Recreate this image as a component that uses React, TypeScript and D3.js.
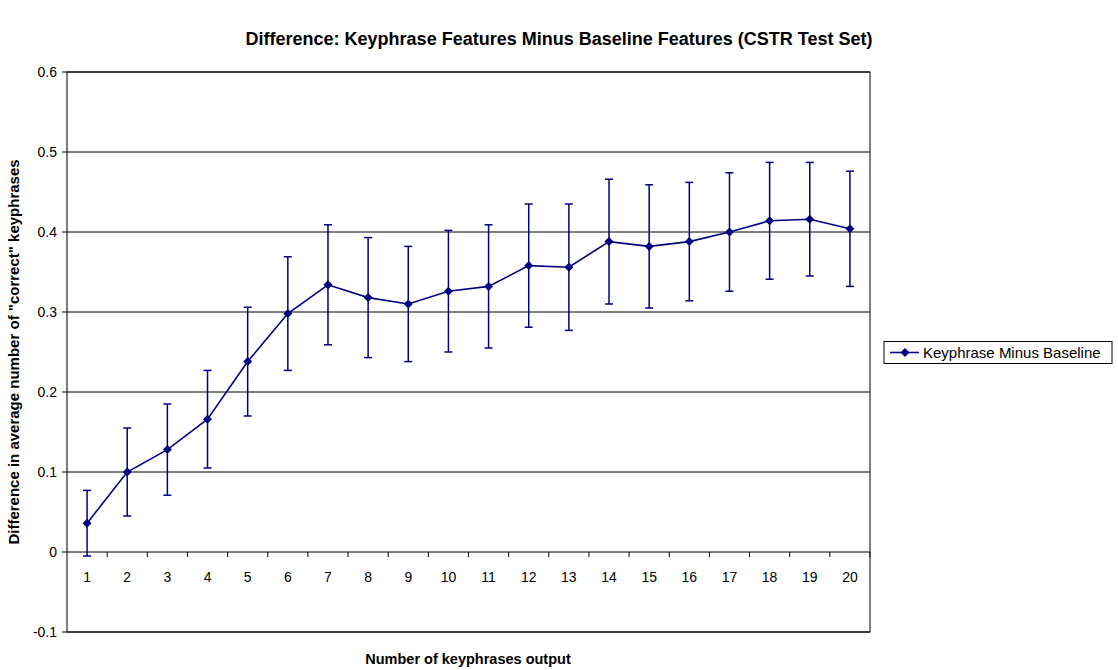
import React from "react";
import * as d3 from "d3";

const categories = ["1","2","3","4","5","6","7","8","9","10","11","12","13","14","15","16","17","18","19","20"];
const values = [0.036,0.100,0.128,0.166,0.238,0.298,0.334,0.318,0.310,0.326,0.332,0.358,0.356,0.388,0.382,0.388,0.400,0.414,0.416,0.404];
const errors = [0.041,0.055,0.057,0.061,0.068,0.071,0.075,0.075,0.072,0.076,0.077,0.077,0.079,0.078,0.077,0.074,0.074,0.073,0.071,0.072];
const yTicks = [-0.1,0,0.1,0.2,0.3,0.4,0.5,0.6];
const yTickLabels = ["-0.1","0","0.1","0.2","0.3","0.4","0.5","0.6"];
const seriesName = "Keyphrase Minus Baseline";
const title = "Difference: Keyphrase Features Minus Baseline Features (CSTR Test Set)";
const xTitle = "Number of keyphrases output";
const yTitle = "Difference in average number of \"correct\" keyphrases";

const W = 1118, H = 670;
const L = 67, R = 870, T = 72, B = 632;
const NAVY = "#000080";
const FONT = "Arial, 'Liberation Sans', sans-serif";

export default function App() {
  const x = d3.scaleBand().domain(categories).range([L, R]);
  const y = d3.scaleLinear().domain([-0.1, 0.6]).range([B, T]);
  const cx = (c: string) => (x(c) as number) + x.bandwidth() / 2;
  const line = d3.line<number>().x((_, i) => cx(categories[i])).y(d => y(d));
  const diamond = (px: number, py: number, r: number) =>
    `M${px},${py - r}L${px + r},${py}L${px},${py + r}L${px - r},${py}Z`;
  const y0 = y(0);
  return (
    <svg width={W} height={H} style={{ position: "absolute", left: 0, top: 0, background: "#fff" }} fontFamily={FONT}>
      <rect x={0} y={0} width={W} height={H} fill="#fff" />
      <text x={559} y={45} textAnchor="middle" fontWeight="bold" fontSize={18}>{title}</text>
      {yTicks.map(t => (
        <line key={t} x1={L} x2={R} y1={y(t)} y2={y(t)} stroke="#000" strokeWidth={1} />
      ))}
      <rect x={L} y={T} width={R - L} height={B - T} fill="none" stroke="#000" strokeWidth={1} />
      {yTicks.map((t, i) => (
        <g key={"yt" + t}>
          <line x1={L - 5} x2={L} y1={y(t)} y2={y(t)} stroke="#000" />
          <text x={L - 10} y={y(t) + 5} textAnchor="end" fontSize={14}>{yTickLabels[i]}</text>
        </g>
      ))}
      {categories.map((c, i) => (
        <g key={"xt" + c}>
          {i > 0 && <line x1={x(c) as number} x2={x(c) as number} y1={y0} y2={y0 + 5} stroke="#000" />}
          <text x={cx(c)} y={y0 + 30} textAnchor="middle" fontSize={14}>{c}</text>
        </g>
      ))}
      <line x1={R} x2={R} y1={y0} y2={y0 + 5} stroke="#000" />
      {values.map((v, i) => {
        const px = cx(categories[i]);
        const top = y(v + errors[i]);
        const bot = y(v - errors[i]);
        return (
          <g key={"e" + i} stroke={NAVY} strokeWidth={1.5}>
            <line x1={px} x2={px} y1={top} y2={bot} />
            <line x1={px - 4} x2={px + 4} y1={top} y2={top} />
            <line x1={px - 4} x2={px + 4} y1={bot} y2={bot} />
          </g>
        );
      })}
      <path d={line(values) || ""} fill="none" stroke={NAVY} strokeWidth={1.6} />
      {values.map((v, i) => (
        <path key={"m" + i} d={diamond(cx(categories[i]), y(v), 4.5)} fill={NAVY} />
      ))}
      <text x={468} y={664} textAnchor="middle" fontWeight="bold" fontSize={14.5}>{xTitle}</text>
      <text transform={`translate(19,${(T + B) / 2}) rotate(-90)`} textAnchor="middle" fontWeight="bold" fontSize={15}>{yTitle}</text>
      <rect x={884} y={341.5} width={228} height={22} fill="#fff" stroke="#000" strokeWidth={1} />
      <line x1={890} x2={919} y1={352.5} y2={352.5} stroke={NAVY} strokeWidth={1.6} />
      <path d={diamond(905, 352.5, 4.5)} fill={NAVY} />
      <text x={923} y={357.5} fontSize={15}>{seriesName}</text>
    </svg>
  );
}
